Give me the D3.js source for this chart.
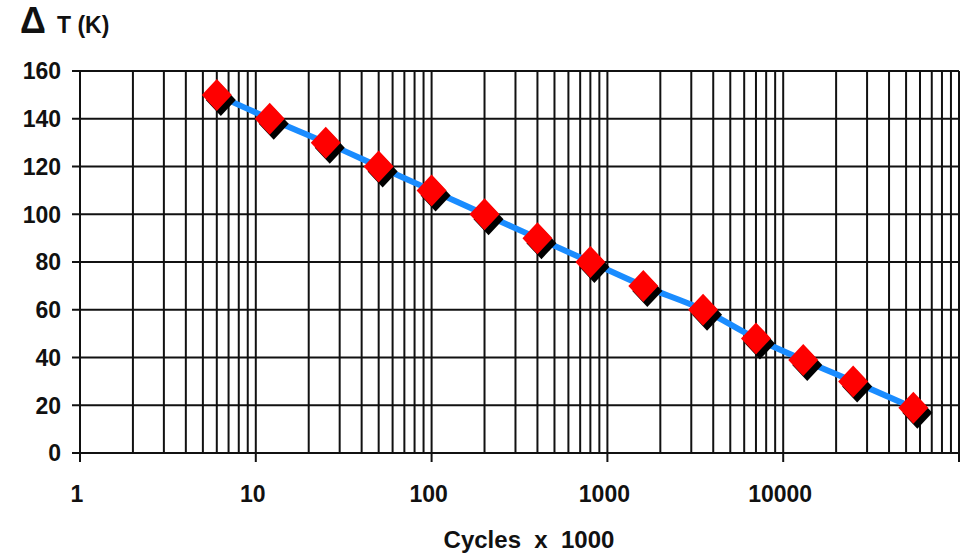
<!DOCTYPE html>
<html>
<head>
<meta charset="utf-8">
<script src="https://cdn.jsdelivr.net/npm/d3@7"></script>
<style>
  body { margin: 0; background: #fff; }
  svg text { font-family: "Liberation Sans", Arial, sans-serif; font-weight: bold; fill: #111; }
</style>
</head>
<body>
<svg id="chart" width="961" height="555"></svg>
<script>
const cycles = [6, 12, 25, 50, 100, 200, 400, 800, 1600, 3500, 7000, 13000, 25000, 55000];
const deltaT = [150, 140, 130, 120, 110, 100, 90, 80, 70, 60, 48, 39, 30, 19];

const yTicks = [0, 20, 40, 60, 80, 100, 120, 140, 160];
const xTicks = [1, 10, 100, 1000, 10000];
const xTitle = "Cycles  x  1000";

const svg = d3.select("#chart");

const x = d3.scaleLog().domain([1, 100000]).range([80, 959]);
const y = d3.scaleLinear().domain([0, 160]).range([453, 71]);

// minor + major vertical grid lines, 1..9 per decade
const vlines = [];
for (let e = 0; e < 5; e++) {
  for (let m = 1; m < 10; m++) vlines.push(m * Math.pow(10, e));
}
vlines.push(100000);

const grid = svg.append("g")
  .attr("stroke", "#111")
  .attr("stroke-width", 2);

grid.selectAll(".v")
  .data(vlines)
  .enter()
  .append("line")
  .attr("x1", d => x(d))
  .attr("x2", d => x(d))
  .attr("y1", y(160))
  .attr("y2", y(0));

grid.selectAll(".h")
  .data(yTicks)
  .enter()
  .append("line")
  .attr("x1", x(1) - 8)
  .attr("x2", x(100000))
  .attr("y1", d => y(d))
  .attr("y2", d => y(d));

grid.selectAll(".xt")
  .data(xTicks.concat([100000]))
  .enter()
  .append("line")
  .attr("x1", d => x(d))
  .attr("x2", d => x(d))
  .attr("y1", y(0))
  .attr("y2", y(0) + 9);

svg.selectAll(".ylab")
  .data(yTicks)
  .enter()
  .append("text")
  .attr("x", 61)
  .attr("y", d => y(d))
  .attr("dy", "0.36em")
  .attr("text-anchor", "end")
  .attr("font-size", 23)
  .text(d => d);

svg.selectAll(".xlab")
  .data(xTicks)
  .enter()
  .append("text")
  .attr("x", d => x(d) - 3)
  .attr("y", 502)
  .attr("text-anchor", "middle")
  .attr("font-size", 23)
  .text(d => d);

svg.append("text")
  .attr("x", 529)
  .attr("y", 548)
  .attr("text-anchor", "middle")
  .attr("font-size", 24)
  .attr("xml:space", "preserve")
  .text(xTitle);

svg.append("text")
  .attr("x", 20)
  .attr("y", 33)
  .attr("font-size", 36)
  .text("Δ");

svg.append("text")
  .attr("x", 57)
  .attr("y", 33)
  .attr("font-size", 23)
  .text("T (K)");

const pts = cycles.map((c, i) => [x(c), y(deltaT[i])]);

svg.append("path")
  .datum(pts)
  .attr("fill", "none")
  .attr("stroke", "#1a8cff")
  .attr("stroke-width", 6)
  .attr("d", d3.line().curve(d3.curveMonotoneX));

const diamond = "M 0,-16 L 15,0 L 0,16 L -15,0 Z";

svg.selectAll(".shadow")
  .data(pts)
  .enter()
  .append("path")
  .attr("d", diamond)
  .attr("fill", "#000")
  .attr("transform", d => `translate(${d[0] + 4},${d[1] + 5})`);

svg.selectAll(".marker")
  .data(pts)
  .enter()
  .append("path")
  .attr("d", diamond)
  .attr("fill", "#ff0000")
  .attr("transform", d => `translate(${d[0]},${d[1]})`);
</script>
</body>
</html>
